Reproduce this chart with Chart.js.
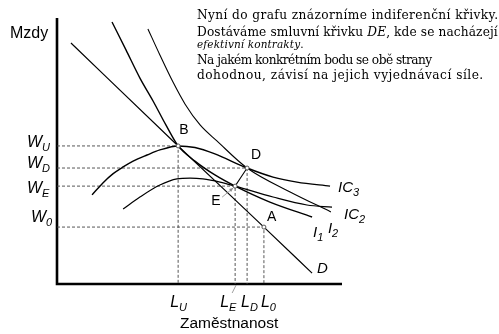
<!DOCTYPE html>
<html lang="cs">
<head>
<meta charset="UTF-8">
<title>Efektivní kontrakty</title>
<script src="https://cdn.jsdelivr.net/npm/chart.js"></script>
<style>
  body { margin: 0; background: #fff; }
  #wrap { position: relative; width: 499px; height: 334px; overflow: hidden; }
  #chart { position: absolute; left: 0; top: 0; }
  .note { position: absolute; left: 197px; white-space: nowrap; font-family: 'DejaVu Serif', serif; font-size: 12.2px; color: #000; line-height: 14px; }
  .note.small { font-size: 10.5px; }
</style>
</head>
<body>
<div id="wrap">
  <canvas id="chart" width="499" height="334"></canvas>
  <div class="note" data-w="301" style="top:8px">Nyní do grafu znázorníme indiferenční křivky.</div>
  <div class="note" data-w="301" style="top:25px">Dostáváme smluvní křivku <i>DE</i>, kde se nacházejí</div>
  <div class="note small" data-w="106" style="top:37px"><i>efektivní kontrakty</i>.</div>
  <div class="note" data-w="235" style="top:53px">Na jakém konkrétním bodu se obě strany</div>
  <div class="note" data-w="286" style="top:68px">dohodnou, závisí na jejich vyjednávací síle.</div>
</div>
<script>
  // key levels: U (monopoly union), D, E (contract curve ends), 0 (competitive)
  const levelNames = ['U', 'D', 'E', '0'];
  const employment = [42.5, 66.7, 62.5, 72.6];
  const wages = [51.9, 43.6, 36.8, 21.4];
  const pointNames = ['B', 'D', 'E', 'A'];

  // labour demand D
  const demandL = [4.9, 42.5, 72.6, 89.5];
  const demandW = [90.6, 51.9, 21.4, 4.1];

  // union indifference curves
  const i1L = [19.3, 24.2, 29.1, 33.7, 38.2, 42.5, 48.4, 55.4, 62.5, 74.7, 89.5];
  const i1W = [98.5, 88.0, 77.4, 68.8, 59.8, 51.9, 46.2, 41.0, 36.8, 30.8, 25.2];
  const i2L = [31.9, 36.1, 40.7, 44.9, 50.2, 56.1, 66.7, 81.8, 96.1];
  const i2W = [95.9, 86.1, 75.9, 67.7, 59.8, 53.8, 43.6, 34.6, 27.1];

  // isoprofit curves
  const ic3L = [12.3, 16.1, 19.6, 23.2, 26.7, 31.6, 36.1, 42.5, 48.4, 55.4, 66.7, 75.8, 84.2, 95.8];
  const ic3W = [33.5, 38.0, 41.4, 44.0, 46.2, 48.5, 50.4, 51.9, 51.3, 48.9, 43.6, 40.2, 38.3, 36.8];
  const ic2L = [23.2, 29.1, 36.1, 42.1, 46.7, 51.2, 57.2, 62.5, 75.8, 87.7, 96.5];
  const ic2W = [28.2, 32.7, 37.2, 39.5, 39.8, 39.5, 38.3, 36.8, 32.7, 29.7, 28.9];

  // spread each text line to its column width
  document.querySelectorAll('.note').forEach(el => {
    const chars = el.textContent.length - 1;
    const extra = (+el.dataset.w - el.scrollWidth) / chars;
    el.style.letterSpacing = extra.toFixed(2) + 'px';
  });

  const xy = (ls, ws) => ls.map((x, i) => ({ x: x, y: ws[i] }));
  const pt = i => ({ x: employment[i], y: wages[i] });

  const curve = (data, w) => ({
    data: data, showLine: true, borderColor: '#000', borderWidth: w,
    pointRadius: 0, cubicInterpolationMode: 'monotone', clip: false
  });
  const dashed = data => ({
    data: data, showLine: true, borderColor: '#444', borderWidth: 0.9,
    borderDash: [3, 2], pointRadius: 0, clip: false
  });

  const datasets = [];
  // points B, D, E, A
  datasets.push({
    data: levelNames.map((n, i) => pt(i)), showLine: false, pointRadius: 2,
    pointBackgroundColor: '#fff', pointBorderColor: '#555', pointBorderWidth: 1, clip: false
  });
  datasets.push(curve(xy(demandL, demandW), 1.2));
  datasets.push(curve(xy(i1L, i1W), 1.4));
  datasets.push(curve(xy(i2L, i2W), 1.1));
  datasets.push(curve(xy(ic3L, ic3W), 1.4));
  datasets.push(curve(xy(ic2L, ic2W), 1.2));
  // contract curve DE
  datasets.push(curve([pt(2), pt(1)], 1.1));
  // guides to the axes
  levelNames.forEach((n, i) => {
    datasets.push(dashed([{ x: 0, y: wages[i] }, pt(i), { x: employment[i], y: 0 }]));
  });
  // axes
  datasets.push(curve([{ x: 0, y: 100 }, { x: 0, y: 0 }, { x: 100, y: 0 }], 2.6));

  function subText(ctx, main, sub, x, y, size) {
    ctx.font = 'italic ' + size + 'px "Liberation Sans", Arial, sans-serif';
    ctx.fillText(main, x, y);
    const w = ctx.measureText(main).width;
    ctx.font = 'italic ' + Math.round(size * 0.7) + 'px "Liberation Sans", Arial, sans-serif';
    ctx.fillText(sub, x + w, y + size * 0.25);
  }

  const labels = {
    id: 'labels',
    afterDatasetsDraw(chart) {
      const ctx = chart.ctx;
      const xs = chart.scales.x, ys = chart.scales.y;
      ctx.save();
      ctx.fillStyle = '#000';
      ctx.textBaseline = 'alphabetic';
      ctx.textAlign = 'left';

      ctx.font = '16px "Liberation Sans", Arial, sans-serif';
      ctx.fillText('Mzdy', 10, 38);
      ctx.font = '15.5px "Liberation Sans", Arial, sans-serif';
      ctx.fillText('Zaměstnanost', 180, 328);

      // wage levels on the vertical axis
      const wPos = [[27, 1], [27, 0], [27, 7], [31, -5]];
      levelNames.forEach((n, i) => {
        subText(ctx, 'W', n, wPos[i][0], ys.getPixelForValue(wages[i]) + wPos[i][1], 16);
      });
      // employment levels on the horizontal axis
      const lPos = [-8, -6, -15, -3];
      levelNames.forEach((n, i) => {
        subText(ctx, 'L', n, xs.getPixelForValue(employment[i]) + lPos[i], 307, 16);
      });

      // point names
      const pPos = [[1, -12], [4, -9], [-24, 19], [3, -6]];
      ctx.font = '14px "Liberation Sans", Arial, sans-serif';
      pointNames.forEach((n, i) => {
        ctx.fillText(n, xs.getPixelForValue(employment[i]) + pPos[i][0],
          ys.getPixelForValue(wages[i]) + pPos[i][1]);
      });

      // curve names at the right ends
      const endOf = (ls, ws) => [xs.getPixelForValue(ls[ls.length - 1]), ys.getPixelForValue(ws[ws.length - 1])];
      let e = endOf(ic3L, ic3W); subText(ctx, 'IC', '3', e[0] + 8, e[1] + 6, 15);
      e = endOf(ic2L, ic2W); subText(ctx, 'IC', '2', e[0] + 12, e[1] + 12, 15);
      e = endOf(i1L, i1W); subText(ctx, 'I', '1', e[0] + 1, e[1] + 20, 15);
      e = endOf(i2L, i2W); subText(ctx, 'I', '2', e[0] - 3, e[1] + 21, 15);
      e = endOf(demandL, demandW);
      ctx.font = 'italic 15px "Liberation Sans", Arial, sans-serif';
      ctx.fillText('D', e[0] + 5, e[1]);

      // pointer from the E label, and the leader under L_E
      const ex = xs.getPixelForValue(employment[2]), ey = ys.getPixelForValue(wages[2]);
      const base = ys.getPixelForValue(0);
      ctx.strokeStyle = '#888';
      ctx.fillStyle = '#888';
      ctx.lineWidth = 0.8;
      ctx.beginPath();
      ctx.moveTo(ex - 13, ey + 11);
      ctx.lineTo(ex - 2, ey + 2);
      ctx.moveTo(ex - 3, base + 9);
      ctx.lineTo(ex + 1, base + 1);
      ctx.stroke();
      ctx.beginPath();
      ctx.moveTo(ex - 2, ey + 2);
      ctx.lineTo(ex - 6, ey + 3);
      ctx.lineTo(ex - 4, ey + 6);
      ctx.closePath();
      ctx.fill();
      ctx.restore();
    }
  };

  new Chart(document.getElementById('chart'), {
    type: 'scatter',
    data: { datasets: datasets },
    options: {
      responsive: false,
      animation: false,
      devicePixelRatio: 1,
      layout: { padding: { left: 57, right: 157, top: 18, bottom: 50 } },
      scales: {
        x: { type: 'linear', min: 0, max: 100, display: false },
        y: { type: 'linear', min: 0, max: 100, display: false }
      },
      plugins: { legend: { display: false }, tooltip: { enabled: false } }
    },
    plugins: [labels]
  });
</script>
</body>
</html>
